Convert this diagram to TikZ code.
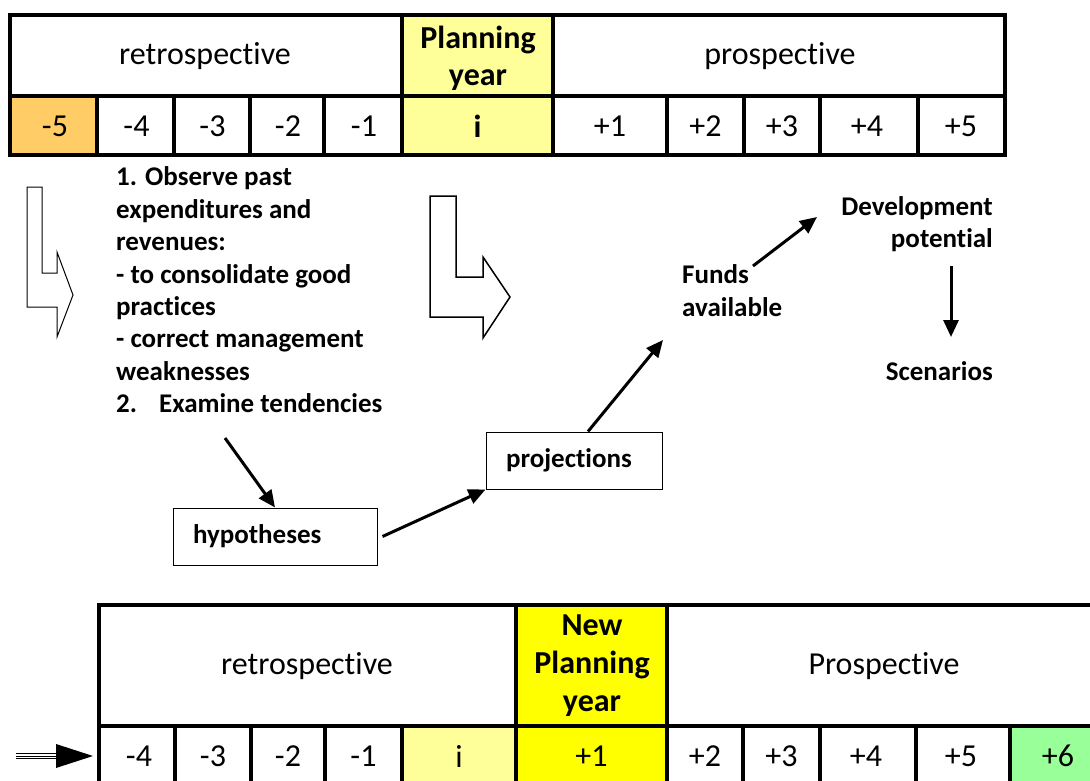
\documentclass[tikz,border=0pt]{standalone}
\usepackage{fontspec}
\setmainfont{Carlito}[Ligatures=NoCommon]
\usetikzlibrary{arrows.meta,calc}
\definecolor{orangec}{HTML}{FFCC66}
\definecolor{paley}{HTML}{FFFF99}
\definecolor{brighty}{HTML}{FFFF00}
\definecolor{greenc}{HTML}{99FF99}
\begin{document}
\begin{tikzpicture}[x=1pt,y=-1pt,
  every node/.style={inner sep=0pt},
  big/.style={font=\fontsize{32}{38}\selectfont},
  bigb/.style={font=\fontsize{32}{38}\selectfont\bfseries, align=center},
  lab/.style={font=\fontsize{27}{32.4}\selectfont\bfseries},
  gridln/.style={line width=4pt},
  conn/.style={line width=3pt, -{Triangle[length=17pt,width=15pt]}},
  boxed/.style={draw, line width=1pt, minimum height=57pt, inner xsep=20pt, align=left, lab},
  larrow/.style={draw, line join=miter}]
\useasboundingbox (0,0) rectangle (1090,781);
\clip (0,0) rectangle (1090,781);
\fill[white] (0,0) rectangle (1090,781);

% ---------- top table ----------
\fill[orangec] (10,96) rectangle (97,155);
\fill[paley] (402,15) rectangle (553,155);
\draw[gridln] (10,15) rectangle (1005,155);
\draw[gridln] (10,96) -- (1005,96);
\draw[gridln] (402,15) -- (402,155);
\draw[gridln] (553,15) -- (553,155);
\foreach \x in {97,174,250,324,667,744,820,918}
  \draw[gridln] (\x,96) -- (\x,155);

\node[big] (retro1) at (205,56) {retrospective};
\node[bigb, font=\fontsize{32}{37}\selectfont\bfseries] (plan1) at (478,58) {Planning\\year};
\node[big] (pros1) at (780,56) {prospective};
\node[big] (tm5) at (55,126) {-5};
\node[big] (tm4) at (136.5,126) {-4};
\node[big] (tm3) at (212.5,126) {-3};
\node[big] (tm2) at (288,126) {-2};
\node[big] (tm1) at (364,126) {-1};
\node[bigb] (ti) at (477.5,126) {i};
\node[big] (tp1) at (610,126) {+1};
\node[big] (tp2) at (705.5,126) {+2};
\node[big] (tp3) at (782,126) {+3};
\node[big] (tp4) at (867,126) {+4};
\node[big] (tp5) at (961,126) {+5};

% ---------- bent arrows ----------
\draw[larrow, line width=1pt] (27,187) -- (42,187) -- (42,273) -- (57,273) -- (57,252)
  -- (73,295) -- (57,337) -- (57,307) -- (27,307) -- cycle;
\draw[larrow, line width=1.5pt] (430,196) -- (456,196) -- (456,277) -- (483,277) -- (483,257)
  -- (510,297) -- (483,338) -- (483,317) -- (430,317) -- cycle;

% ---------- text block ----------
\node[lab, align=left, anchor=west] (obs) at (116,290) {1. Observe past\\expenditures and\\revenues:\\- to consolidate good\\practices\\- correct management\\weaknesses\\2.\hspace{22pt}Examine tendencies};

\node[boxed, text width=164pt] (hyp) at (275,536.5) {hypotheses};
\node[boxed, text width=136pt] (proj) at (574,460.5) {projections};

\node[lab, align=left, anchor=west] (funds) at (682,290.5) {Funds\\available};
\node[lab, align=right, anchor=east] (dev) at (993,224) {Development\\potential};
\node[lab, anchor=east] (scen) at (993,371) {Scenarios};

\coordinate (obsend) at (225,438);
\coordinate (fundsin) at (663,340);
\coordinate (fundsout) at (753,266);
\coordinate (devin) at (817,217);
\coordinate (devout) at (951,266);
\coordinate (scenin) at (951,337);

\draw[conn] (obsend) -- (hyp.north);
\draw[conn] ([xshift=5pt]hyp.east) -- (proj.south west);
\draw[conn] ([xshift=14pt]proj.north) -- (fundsin);
\draw[conn] (fundsout) -- (devin);
\draw[conn] (devout) -- (scenin);

% ---------- bottom table ----------
\fill[paley] (402,726) rectangle (516,800);
\fill[brighty] (516,605) rectangle (667,800);
\fill[greenc] (1010,726) rectangle (1100,800);
\draw[gridln] (1100,605) -- (99,605) -- (99,800);
\draw[gridln] (99,726) -- (1100,726);
\draw[gridln] (516,605) -- (516,800);
\draw[gridln] (667,605) -- (667,800);
\foreach \x in {175,251,325,402,743,820,916,1010}
  \draw[gridln] (\x,726) -- (\x,800);

\node[big] (retro2) at (307,666) {retrospective};
\node[bigb] (plan2) at (592,666) {New\\Planning\\year};
\node[big] (pros2) at (884,666) {Prospective};
\node[big] (bm4) at (139,756) {-4};
\node[big] (bm3) at (213,756) {-3};
\node[big] (bm2) at (288,756) {-2};
\node[big] (bm1) at (363.5,756) {-1};
\node[big] (bi) at (459,756) {i};
\node[big] (bp1) at (591.5,756) {+1};
\node[big] (bp2) at (705,756) {+2};
\node[big] (bp3) at (781.5,756) {+3};
\node[big] (bp4) at (866,756) {+4};
\node[big] (bp5) at (961,756) {+5};
\node[big] (bp6) at (1058,756) {+6};

% ---------- entry arrow ----------
\coordinate (ea) at (16,756);
\coordinate (eb) at (56,756);
\coordinate (etip) at (93,756);
\foreach \d in {-2.6,0,2.6}
  \draw[line width=0.9pt] ([yshift=\d pt]ea) -- ([yshift=\d pt]eb);
\fill ([yshift=12pt]eb) -- (etip) -- ([yshift=-12pt]eb) -- cycle;
\end{tikzpicture}
\end{document}
